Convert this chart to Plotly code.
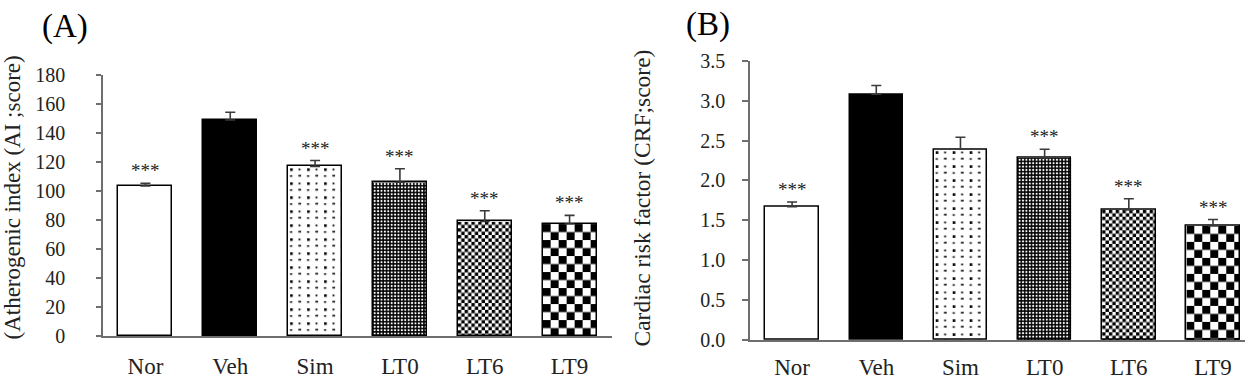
import base64
import plotly.graph_objects as go

# ---------------- data ----------------
categories = ["Nor", "Veh", "Sim", "LT0", "LT6", "LT9"]

ai_values = [103.5, 149.0, 117.0, 106.0, 79.0, 77.2]
ai_errors = [1.8, 5.3, 4.0, 9.3, 7.4, 6.0]
ai_marks = ["***", "", "***", "***", "***", "***"]
ai_ticks = [0, 20, 40, 60, 80, 100, 120, 140, 160, 180]

crf_values = [1.67, 3.08, 2.39, 2.28, 1.63, 1.43]
crf_errors = [0.06, 0.11, 0.15, 0.11, 0.14, 0.08]
crf_marks = ["***", "", "", "***", "***", "***"]
crf_ticks = [0.0, 0.5, 1.0, 1.5, 2.0, 2.5, 3.0, 3.5]

# ---------------- styling ----------------
W, H = 1245, 384
FONT = "Liberation Serif"
AXIS_COL = "#6e6e6e"
BAR_W = 0.635

fill_colors = ["white", "black", "rgba(0,0,0,0)", "rgba(0,0,0,0)", "rgba(0,0,0,0)", "rgba(0,0,0,0)"]
textures = [None, None, "dots", "grid", "checker_fine", "checker_coarse"]


def texture_defs(kind):
    if kind == "dots":
        return ("<pattern id='p' width='17' height='14' patternUnits='userSpaceOnUse'>"
                "<rect width='17' height='14' fill='white'/>"
                "<rect x='2' y='2' width='2.6' height='2.6' fill='black'/>"
                "<rect x='10.5' y='2.3' width='1.8' height='1.8' fill='black'/>"
                "<rect x='1.8' y='9' width='2.4' height='1.4' fill='black'/>"
                "<rect x='10.2' y='8.6' width='2.8' height='1.6' fill='black'/>"
                "</pattern>")
    if kind == "grid":
        return ("<pattern id='p' width='3.4' height='3.4' patternUnits='userSpaceOnUse'>"
                "<rect width='3.4' height='3.4' fill='black'/>"
                "<rect x='0.75' y='0.75' width='1.9' height='1.9' fill='white'/>"
                "</pattern>")
    a = 3.4 if kind == "checker_fine" else 8.0
    return (f"<pattern id='p' width='{2*a}' height='{2*a}' patternUnits='userSpaceOnUse'>"
            f"<rect width='{2*a}' height='{2*a}' fill='white'/>"
            f"<rect width='{a}' height='{a}' fill='black'/>"
            f"<rect x='{a}' y='{a}' width='{a}' height='{a}' fill='black'/></pattern>")


def texture_uri(wpx, hpx, kind):
    svg = (
        f"<svg xmlns='http://www.w3.org/2000/svg' width='{wpx:.1f}' height='{hpx:.1f}' "
        f"viewBox='0 0 {wpx:.1f} {hpx:.1f}' preserveAspectRatio='none'>"
        f"<defs>{texture_defs(kind)}</defs>"
        f"<rect width='{wpx:.1f}' height='{hpx:.1f}' fill='url(#p)'/></svg>"
    )
    return "data:image/svg+xml;base64," + base64.b64encode(svg.encode()).decode()


panels = [
    dict(vals=ai_values, errs=ai_errors, marks=ai_marks, ticks=ai_ticks, fmt="d",
         xd=[103 / W, 612 / W], yd=[1 - 336 / H, 1 - 75 / H], xr=[-0.5, 5.5],
         yr=[0, 180], xa="x", ya="y", standoff_y=27, standoff_x=9, ticklen=5),
    dict(vals=crf_values, errs=crf_errors, marks=crf_marks, ticks=crf_ticks, fmt=".1f",
         xd=[750 / W, 1.0], yd=[1 - 340 / H, 1 - 60.7 / H], xr=[-0.5, 5.38],
         yr=[0, 3.5], xa="x2", ya="y2", standoff_y=13, standoff_x=6, ticklen=6),
]

fig = go.Figure()
images = []
annotations = []
xpos = list(range(len(categories)))

for k, p in enumerate(panels):
    fig.add_trace(go.Bar(
        x=xpos, y=p["vals"], width=BAR_W,
        xaxis=p["xa"], yaxis=p["ya"],
        marker=dict(color=fill_colors, line=dict(color="black", width=1.5)),
        error_y=dict(type="data", symmetric=False, array=p["errs"],
                     arrayminus=[0] * len(p["errs"]),
                     color="#3a3a3a", thickness=1.6, width=5),
        showlegend=False, hoverinfo="skip",
    ))
    px_per_cat = (p["xd"][1] - p["xd"][0]) * W / (p["xr"][1] - p["xr"][0])
    px_per_unit = (p["yd"][1] - p["yd"][0]) * H / (p["yr"][1] - p["yr"][0])
    for i, v in enumerate(p["vals"]):
        if textures[i]:
            images.append(dict(
                source=texture_uri(BAR_W * px_per_cat, v * px_per_unit, textures[i]),
                xref=p["xa"], yref=p["ya"], x=xpos[i] - BAR_W / 2, y=v,
                sizex=BAR_W, sizey=v, xanchor="left", yanchor="top",
                sizing="stretch", layer="below",
            ))
        if p["marks"][i]:
            annotations.append(dict(
                x=xpos[i], y=v + p["errs"][i], xref=p["xa"], yref=p["ya"],
                text=p["marks"][i], showarrow=False, yanchor="bottom", yshift=0,
                font=dict(family=FONT, size=19, color="#222"),
            ))

annotations += [
    dict(x=65 / W, y=1 - 26 / H, xref="paper", yref="paper", text="(A)", showarrow=False,
         xanchor="center", yanchor="middle", font=dict(family=FONT, size=33, color="black")),
    dict(x=708 / W, y=1 - 24 / H, xref="paper", yref="paper", text="(B)", showarrow=False,
         xanchor="center", yanchor="middle", font=dict(family=FONT, size=33, color="black")),
    dict(x=12 / W, y=1 - 197.5 / H, xref="paper", yref="paper",
         text="(Atherogenic index (AI ;score)", textangle=-90, showarrow=False,
         xanchor="center", yanchor="middle", font=dict(family=FONT, size=23, color="#222")),
    dict(x=641 / W, y=1 - 198.5 / H, xref="paper", yref="paper",
         text="Cardiac risk factor (CRF;score)", textangle=-90, showarrow=False,
         xanchor="center", yanchor="middle", font=dict(family=FONT, size=23.5, color="#222")),
]

layout = dict(
    template="none",
    width=W, height=H, margin=dict(l=0, r=0, t=0, b=0, pad=0),
    paper_bgcolor="white", plot_bgcolor="white",
    font=dict(family=FONT, color="#222"),
    annotations=annotations, images=images, bargap=0, showlegend=False,
)
for k, p in enumerate(panels):
    sx = "" if k == 0 else "2"
    layout["xaxis" + sx] = dict(
        domain=p["xd"], range=p["xr"], anchor=p["ya"], automargin=False,
        tickvals=xpos, ticktext=categories, ticks="",
        showline=True, linecolor=AXIS_COL, linewidth=1.5,
        showgrid=False, zeroline=False,
        tickfont=dict(family=FONT, size=23, color="#222"),
        ticklabelstandoff=p["standoff_x"],
    )
    layout["yaxis" + sx] = dict(
        domain=p["yd"], range=p["yr"], anchor=p["xa"], automargin=False,
        tickvals=p["ticks"], tickformat=p["fmt"], ticks="outside",
        ticklen=p["ticklen"], tickwidth=1.5, tickcolor=AXIS_COL,
        showline=True, linecolor=AXIS_COL, linewidth=1.5,
        showgrid=False, zeroline=False,
        tickfont=dict(family=FONT, size=20, color="#222"),
        ticklabelstandoff=p["standoff_y"],
    )

fig.update_layout(**layout)
fig.write_html("out.html")
